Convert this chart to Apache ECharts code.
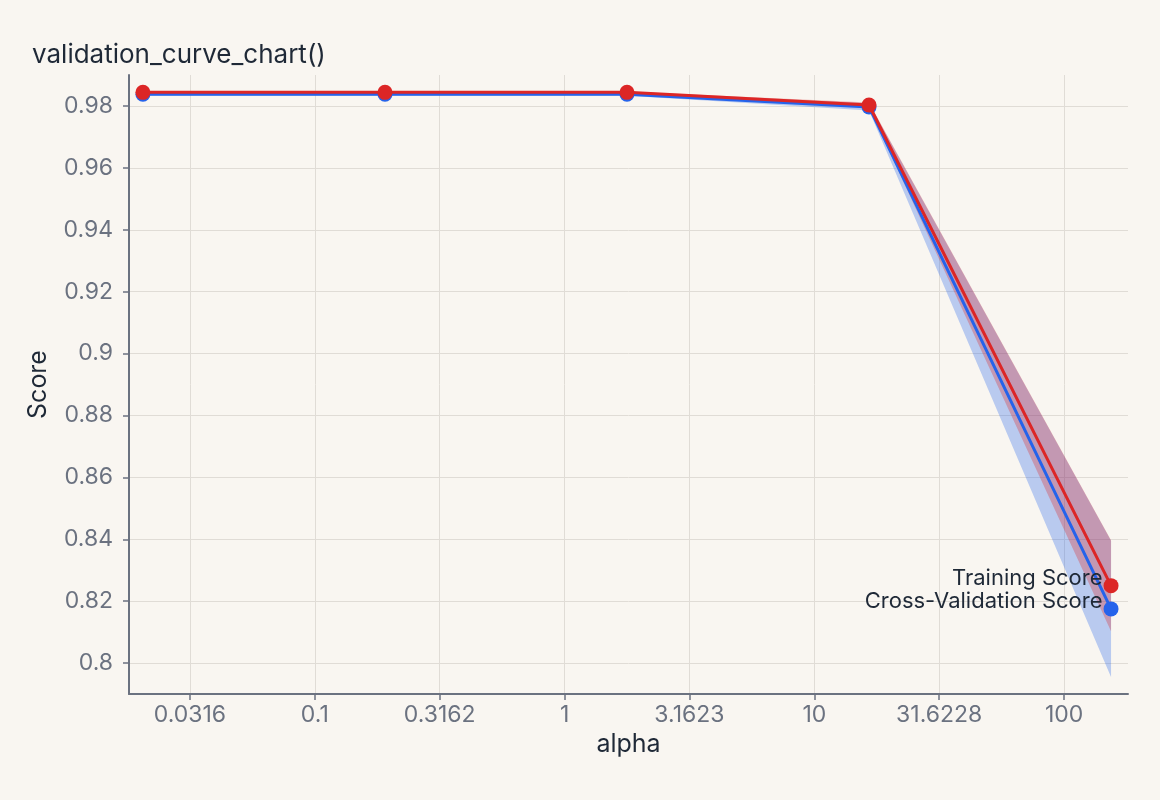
<!DOCTYPE html>
<html>
<head>
<meta charset="utf-8">
<script src="https://cdn.jsdelivr.net/npm/echarts@6/dist/echarts.min.js"></script>
<style>
html,body{margin:0;padding:0;background:#f9f6f1;}
#main{width:1160px;height:800px;}
</style>
</head>
<body>
<div id="main"></div>
<script>
// ---- data ----
var alphas = [0.0205, 0.191, 1.778, 16.56, 154.2];
var trainMean = [0.9844, 0.9844, 0.9844, 0.9803, 0.8250];
var trainStd = [0.0003, 0.0003, 0.0003, 0.0008, 0.0147];
var cvMean = [0.9838, 0.9838, 0.9838, 0.9797, 0.8175];
var cvStd = [0.0005, 0.0005, 0.0005, 0.0012, 0.0220];
var xTickExponents = [-1.5, -1, -0.5, 0, 0.5, 1, 1.5, 2];
var yTicks = [0.8, 0.82, 0.84, 0.86, 0.88, 0.9, 0.92, 0.94, 0.96, 0.98];
var seriesNames = ['Training Score', 'Cross-Validation Score'];

var RED = '#dc2626', BLUE = '#2563eb';
var FONT = 'Inter, "Noto Sans", sans-serif';
var lx = alphas.map(function (a) { return Math.log10(a); });

function bandData(m, s) {
  return m.map(function (v, i) { return [lx[i], v - s[i], v + s[i]]; });
}
function bandSeries(m, s, color, opacity, z) {
  return {
    type: 'custom', data: bandData(m, s), silent: true, z: z, clip: true,
    encode: { x: 0, y: [1, 2] },
    renderItem: function (params, api) {
      if (params.dataIndex !== 0) return null;
      var top = [], bot = [];
      for (var i = 0; i < m.length; i++) {
        top.push(api.coord([lx[i], m[i] + s[i]]));
        bot.push(api.coord([lx[i], m[i] - s[i]]));
      }
      return {
        type: 'polygon',
        shape: { points: top.concat(bot.reverse()) },
        style: { fill: color, opacity: opacity }
      };
    }
  };
}
function lineData(m, labelOffsetY) {
  return m.map(function (v, i) {
    var item = { value: [lx[i], v] };
    if (i === m.length - 1) {
      item.label = {
        show: true, position: 'left', distance: 1, offset: [0, labelOffsetY],
        formatter: '{a}', color: '#1f2937', fontSize: 22, fontFamily: FONT
      };
    }
    return item;
  });
}

var chart = echarts.init(document.getElementById('main'));
chart.setOption({
  backgroundColor: '#f9f6f1',
  animation: false,
  title: {
    text: 'validation_curve_chart()', left: 27, top: 37,
    textStyle: { fontFamily: FONT, fontSize: 26, fontWeight: 'normal', color: '#1f2937' }
  },
  grid: { left: 129, right: 32, top: 75, bottom: 106, containLabel: false },
  xAxis: {
    type: 'value', min: -1.744, max: 2.256,
    name: 'alpha', nameLocation: 'middle', nameGap: 38,
    nameTextStyle: { fontFamily: FONT, fontSize: 25, color: '#1f2937' },
    axisLine: { show: true, onZero: false, lineStyle: { color: '#6b7280', width: 2 } },
    axisTick: { show: true, length: 6, customValues: xTickExponents, lineStyle: { color: '#6b7280', width: 1.5 } },
    axisLabel: {
      customValues: xTickExponents, margin: 10,
      fontFamily: FONT, fontSize: 23, color: '#6b7280',
      formatter: function (v) { return String(Number(Math.pow(10, v).toFixed(4))); }
    },
    splitLine: { show: true, lineStyle: { color: '#e0dcd6', width: 1 } }
  },
  yAxis: {
    type: 'value', min: 0.79, max: 0.99,
    name: 'Score', nameLocation: 'middle', nameGap: 78, nameRotate: 90,
    nameTextStyle: { fontFamily: FONT, fontSize: 25, color: '#1f2937' },
    axisLine: { show: true, onZero: false, lineStyle: { color: '#6b7280', width: 2 } },
    axisTick: { show: true, length: 6, customValues: yTicks, lineStyle: { color: '#6b7280', width: 1.5 } },
    axisLabel: {
      customValues: yTicks, margin: 16,
      fontFamily: FONT, fontSize: 23, color: '#6b7280',
      formatter: function (v) { return String(Number(v.toFixed(4))); }
    },
    splitLine: { show: true, lineStyle: { color: '#e0dcd6', width: 1 } }
  },
  series: [
    bandSeries(cvMean, cvStd, BLUE, 0.3, 1),
    bandSeries(trainMean, trainStd, RED, 0.3, 2),
    {
      name: seriesNames[1], type: 'line', data: lineData(cvMean, -7), z: 3,
      symbol: 'circle', symbolSize: 15, lineStyle: { color: BLUE, width: 3 }, itemStyle: { color: BLUE }
    },
    {
      name: seriesNames[0], type: 'line', data: lineData(trainMean, -7), z: 4,
      symbol: 'circle', symbolSize: 15, lineStyle: { color: RED, width: 3 }, itemStyle: { color: RED }
    }
  ]
});
</script>
</body>
</html>
